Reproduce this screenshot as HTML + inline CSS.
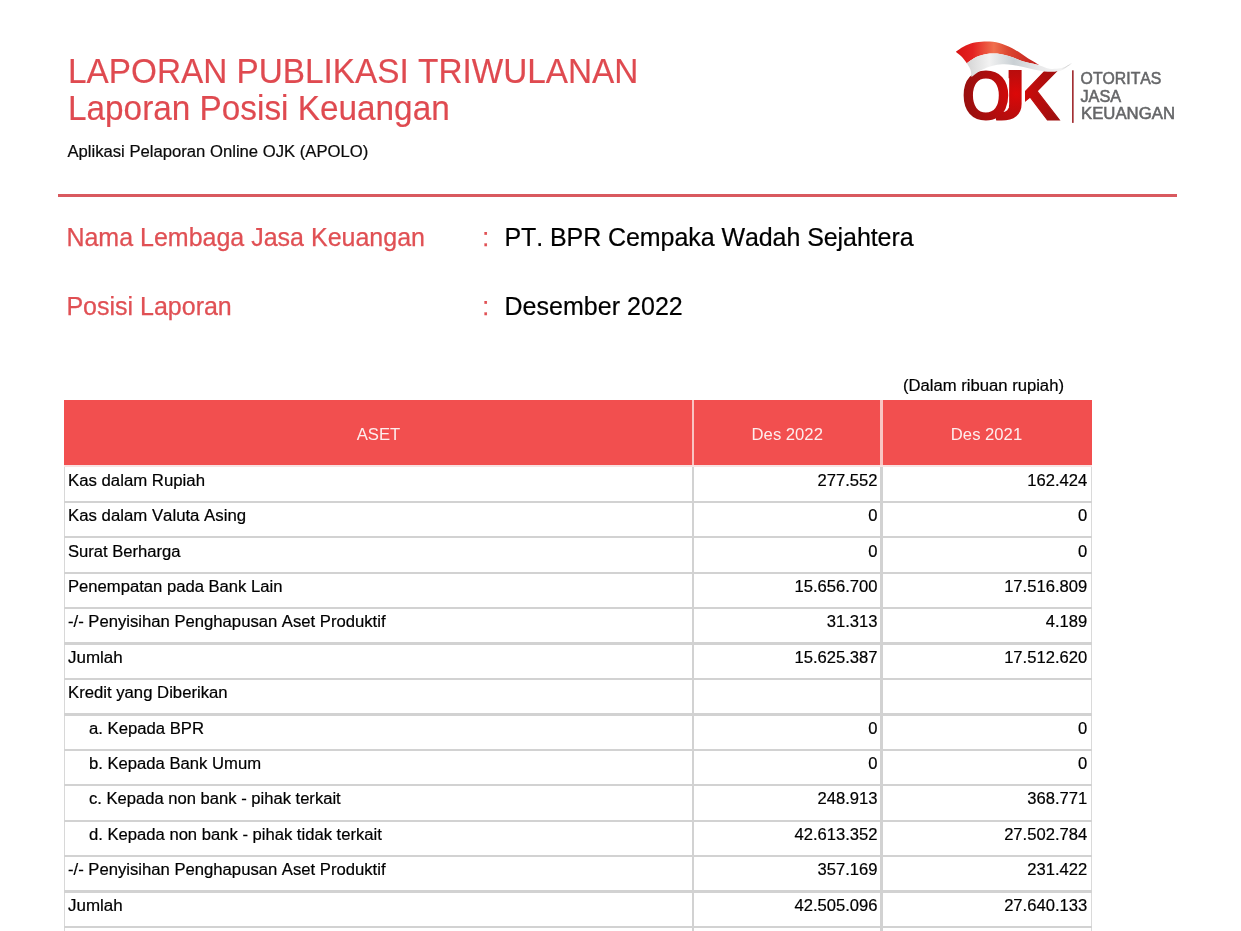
<!DOCTYPE html>
<html lang="id"><head><meta charset="utf-8"><title>Laporan Posisi Keuangan</title>
<style>
html,body{margin:0;padding:0;background:#fff}
body{font-kerning:none;width:1241px;height:931px;position:relative;overflow:hidden;font-family:"Liberation Sans",Arial,sans-serif;color:#000}
.a{position:absolute;white-space:pre;line-height:1;margin:0}
.t1{font-size:33.33px;color:#df4a50;left:68px;-webkit-text-stroke:0.15px #df4a50;transform-origin:0 27.9px;transform:scaleY(1.025)}
.sub{font-size:16.67px;left:67.4px;color:#0a0a0a;-webkit-text-stroke:0.2px #0a0a0a}
.lab{font-size:25px;color:#e05054;left:66.4px;-webkit-text-stroke:0.25px #e05054}
.val{font-size:25px;color:#000;left:504.4px;letter-spacing:-0.07px;-webkit-text-stroke:0.2px #000}
.hl{position:absolute;background:#d2d2d2}
.th{position:absolute;top:400.4px;height:64.8px;background:#f24f4f;color:#fdeeee;font-size:16.67px;text-align:center;line-height:1}
.th span{position:absolute;left:0;right:0;top:26.7px}
.rl{font-size:16px;color:#000;-webkit-text-stroke:0.2px #000;transform-origin:0 0}
.nt{font-size:16.67px;color:#000;-webkit-text-stroke:0.2px #000}
.num{font-size:16.6px;color:#000;text-align:right;-webkit-text-stroke:0.2px #000}
</style></head><body>
<div class="a t1" style="top:55.1px">LAPORAN PUBLIKASI TRIWULANAN</div>
<div class="a t1" style="top:91.9px">Laporan Posisi Keuangan</div>
<div class="a sub" style="top:144.2px">Aplikasi Pelaporan Online OJK (APOLO)</div>
<div class="hl" style="left:58px;top:194.4px;width:1118.8px;height:2.3px;background:#d9595f"></div>
<div class="a lab" style="top:225.2px">Nama Lembaga Jasa Keuangan</div>
<div class="a lab" style="top:225.2px;left:482.2px">:</div>
<div class="a val" style="top:225.2px">PT. BPR Cempaka Wadah Sejahtera</div>
<div class="a lab" style="top:294.4px">Posisi Laporan</div>
<div class="a lab" style="top:294.4px;left:482.2px">:</div>
<div class="a val" style="top:294.4px;letter-spacing:0.04px">Desember 2022</div>
<div class="a rl" style="top:377.76px;left:902.7px;transform:scaleX(1.040)">(Dalam ribuan rupiah)</div>
<div class="th" style="left:64px;width:1028px"></div>
<div class="th" style="left:64px;width:629px;background:none"><span>ASET</span></div>
<div class="th" style="left:693px;width:188.5px;background:none"><span>Des 2022</span></div>
<div class="th" style="left:881.5px;width:210px;background:none"><span>Des 2021</span></div>
<div class="hl" style="left:691.7px;top:400.4px;width:2.4px;height:64.8px;background:#f9c4c2"></div>
<div class="hl" style="left:880.3px;top:400.4px;width:2.4px;height:64.8px;background:#f9c4c2"></div>
<div class="hl" style="left:64.2px;top:466px;width:1.2px;height:470px;background:#d8d8d8"></div>
<div class="hl" style="left:691.7px;top:466px;width:2.4px;height:470px"></div>
<div class="hl" style="left:880.3px;top:466px;width:2.4px;height:470px"></div>
<div class="hl" style="left:1090.6px;top:466px;width:1.4px;height:470px;background:#dadada"></div>
<div class="hl" style="left:64px;top:465.2px;width:1028px;height:2.1px;background:#f8e2e2"></div>
<div class="hl" style="left:64px;top:500.77px;width:1028px;height:2.3px"></div>
<div class="a rl" style="top:472.76px;left:67.9px;transform:scaleX(1.0478)">Kas dalam Rupiah</div>
<div class="a num" style="top:472.85px;left:700px;width:177.5px">277.552</div>
<div class="a num" style="top:472.85px;left:890px;width:197.2px">162.424</div>
<div class="hl" style="left:64px;top:536.19px;width:1028px;height:2.3px"></div>
<div class="a rl" style="top:507.76px;left:67.9px;transform:scaleX(1.0481)">Kas dalam Valuta Asing</div>
<div class="a num" style="top:507.85px;left:700px;width:177.5px">0</div>
<div class="a num" style="top:507.85px;left:890px;width:197.2px">0</div>
<div class="hl" style="left:64px;top:571.61px;width:1028px;height:2.3px"></div>
<div class="a rl" style="top:543.76px;left:67.9px;transform:scaleX(1.0375)">Surat Berharga</div>
<div class="a num" style="top:543.85px;left:700px;width:177.5px">0</div>
<div class="a num" style="top:543.85px;left:890px;width:197.2px">0</div>
<div class="hl" style="left:64px;top:607.03px;width:1028px;height:2.3px"></div>
<div class="a rl" style="top:578.76px;left:67.9px;transform:scaleX(1.0392)">Penempatan pada Bank Lain</div>
<div class="a num" style="top:578.85px;left:700px;width:177.5px">15.656.700</div>
<div class="a num" style="top:578.85px;left:890px;width:197.2px">17.516.809</div>
<div class="hl" style="left:64px;top:642.45px;width:1028px;height:2.3px"></div>
<div class="a rl" style="top:613.76px;left:67.9px;transform:scaleX(1.0409)">-/- Penyisihan Penghapusan Aset Produktif</div>
<div class="a num" style="top:613.85px;left:700px;width:177.5px">31.313</div>
<div class="a num" style="top:613.85px;left:890px;width:197.2px">4.189</div>
<div class="hl" style="left:64px;top:677.87px;width:1028px;height:2.3px"></div>
<div class="a rl" style="top:649.76px;left:67.9px;transform:scaleX(1.0592)">Jumlah</div>
<div class="a num" style="top:649.85px;left:700px;width:177.5px">15.625.387</div>
<div class="a num" style="top:649.85px;left:890px;width:197.2px">17.512.620</div>
<div class="hl" style="left:64px;top:713.29px;width:1028px;height:2.3px"></div>
<div class="a rl" style="top:684.76px;left:67.9px;transform:scaleX(1.0433)">Kredit yang Diberikan</div>
<div class="hl" style="left:64px;top:748.71px;width:1028px;height:2.3px"></div>
<div class="a rl" style="top:720.76px;left:89.2px;transform:scaleX(1.0429)">a. Kepada BPR</div>
<div class="a num" style="top:720.85px;left:700px;width:177.5px">0</div>
<div class="a num" style="top:720.85px;left:890px;width:197.2px">0</div>
<div class="hl" style="left:64px;top:784.13px;width:1028px;height:2.3px"></div>
<div class="a rl" style="top:755.76px;left:89.2px;transform:scaleX(1.0400)">b. Kepada Bank Umum</div>
<div class="a num" style="top:755.85px;left:700px;width:177.5px">0</div>
<div class="a num" style="top:755.85px;left:890px;width:197.2px">0</div>
<div class="hl" style="left:64px;top:819.55px;width:1028px;height:2.3px"></div>
<div class="a rl" style="top:790.76px;left:89.2px;transform:scaleX(1.0366)">c. Kepada non bank - pihak terkait</div>
<div class="a num" style="top:790.85px;left:700px;width:177.5px">248.913</div>
<div class="a num" style="top:790.85px;left:890px;width:197.2px">368.771</div>
<div class="hl" style="left:64px;top:854.97px;width:1028px;height:2.3px"></div>
<div class="a rl" style="top:826.76px;left:89.2px;transform:scaleX(1.0386)">d. Kepada non bank - pihak tidak terkait</div>
<div class="a num" style="top:826.85px;left:700px;width:177.5px">42.613.352</div>
<div class="a num" style="top:826.85px;left:890px;width:197.2px">27.502.784</div>
<div class="hl" style="left:64px;top:890.39px;width:1028px;height:2.3px"></div>
<div class="a rl" style="top:861.76px;left:67.9px;transform:scaleX(1.0409)">-/- Penyisihan Penghapusan Aset Produktif</div>
<div class="a num" style="top:861.85px;left:700px;width:177.5px">357.169</div>
<div class="a num" style="top:861.85px;left:890px;width:197.2px">231.422</div>
<div class="hl" style="left:64px;top:925.81px;width:1028px;height:2.3px"></div>
<div class="a rl" style="top:897.76px;left:67.9px;transform:scaleX(1.0592)">Jumlah</div>
<div class="a num" style="top:897.85px;left:700px;width:177.5px">42.505.096</div>
<div class="a num" style="top:897.85px;left:890px;width:197.2px">27.640.133</div>
<svg style="position:absolute;left:940px;top:30px" width="250" height="110" viewBox="940 30 250 110">
<defs>
<radialGradient id="gl" gradientUnits="userSpaceOnUse" cx="1016" cy="94" r="52">
<stop offset="0" stop-color="#dc0808"/><stop offset="0.35" stop-color="#c00c0c"/><stop offset="1" stop-color="#98100f"/>
</radialGradient>
<radialGradient id="gO" href="#gl" gradientTransform="scale(1.10742,1) translate(-961.00,-119.60)"/>
<radialGradient id="gJ" href="#gl" gradientTransform="scale(0.82988,1) translate(-979.20,-119.50)"/>
<radialGradient id="gK" href="#gl" gradientTransform="scale(1.03842,1) translate(-1009.40,-119.70)"/>
<linearGradient id="gr" gradientUnits="userSpaceOnUse" x1="956" y1="55" x2="1040" y2="55">
<stop offset="0" stop-color="#d81414"/><stop offset="0.2" stop-color="#e42222"/><stop offset="0.45" stop-color="#f0704e"/><stop offset="0.62" stop-color="#dc4630"/><stop offset="1" stop-color="#c01c1c"/>
</linearGradient>
<linearGradient id="gw" gradientUnits="userSpaceOnUse" x1="966" y1="60" x2="1072" y2="60">
<stop offset="0" stop-color="#d4d4d4"/><stop offset="0.22" stop-color="#f2f2f2"/><stop offset="0.45" stop-color="#c9d0d4"/><stop offset="0.7" stop-color="#e9e9ea"/><stop offset="0.9" stop-color="#f2f2f2"/><stop offset="1" stop-color="#b8b8b8"/>
</linearGradient>
<clipPath id="cj"><path d="M1008.6 60H1030V130H996V108H1008.6Z"/></clipPath>
<clipPath id="ck"><rect x="1025.0" y="60" width="50" height="70"/></clipPath>
</defs>
<g font-family="Liberation Sans, Arial, sans-serif" font-weight="bold" fill="url(#gl)">
<text transform="translate(961,119.6) scale(0.903,1)" font-size="71.1" fill="url(#gO)">O</text>
<g clip-path="url(#cj)"><text transform="translate(979.2,119.5) scale(1.205,1)" font-size="72.1" fill="url(#gJ)">J</text></g>
<g clip-path="url(#ck)"><text transform="translate(1009.4,119.7) scale(0.963,1)" font-size="72.5" fill="url(#gK)" stroke="url(#gK)" stroke-width="1.2">K</text></g>
</g>
<path d="M955.8 51.8C957.4 50.7 962.3 47.0 965.7 45.5C969.1 43.9 972.2 43.0 976.2 42.3C980.2 41.7 985.4 41.2 989.8 41.5C994.2 41.8 998.2 42.5 1002.4 43.9C1006.6 45.3 1010.8 47.3 1014.9 49.7C1019.1 52.0 1023.4 55.5 1027.5 58.0C1031.6 60.6 1037.6 64.0 1039.6 65.2C1037.9 64.8 1032.7 63.8 1029.6 63.1C1026.6 62.3 1024.7 61.9 1021.2 60.7C1017.7 59.5 1012.7 57.1 1008.7 56.0C1004.6 54.8 1000.8 54.0 997.1 53.6C993.5 53.3 990.2 53.3 986.7 53.9C983.2 54.4 979.5 55.4 976.2 57.0C972.9 58.6 968.3 62.2 966.8 63.3C966.0 62.2 963.9 58.9 962.0 57.0C960.2 55.1 956.8 52.6 955.8 51.8Z" fill="url(#gr)"/>
<path d="M966.8 63.3C968.3 62.2 972.9 58.6 976.2 57.0C979.5 55.4 983.2 54.4 986.7 53.9C990.2 53.3 993.5 53.3 997.1 53.6C1000.8 54.0 1004.6 54.8 1008.7 56.0C1012.7 57.1 1017.7 59.5 1021.2 60.7C1024.7 61.9 1026.6 62.3 1029.6 63.1C1032.7 63.9 1036.2 64.4 1039.6 65.4C1042.9 66.3 1046.1 68.2 1049.5 68.7C1052.9 69.2 1057.2 68.7 1060.0 68.3C1062.8 67.9 1064.3 67.1 1066.3 66.2C1068.3 65.3 1071.1 63.6 1072.0 63.1C1070.6 64.2 1066.0 68.1 1063.1 69.6C1060.3 71.0 1057.9 71.4 1054.8 71.7C1051.6 72.0 1047.8 71.8 1044.3 71.5C1040.8 71.1 1037.3 70.3 1033.8 69.6C1030.3 68.8 1026.8 67.7 1023.3 67.0C1019.8 66.2 1016.3 65.3 1012.9 64.9C1009.4 64.4 1005.9 64.2 1002.4 64.3C998.9 64.5 995.4 64.9 991.9 65.9C988.4 66.9 984.8 68.2 981.4 70.1C978.0 72.0 973.1 75.9 971.5 77.1C971.3 75.9 971.2 71.9 970.4 69.6C969.6 67.3 967.4 64.3 966.8 63.3Z" fill="url(#gw)"/>
<rect x="1072.1" y="70.3" width="1.5" height="52.6" fill="#991a1e"/>
<g font-family="Liberation Sans, Arial, sans-serif" font-size="16.6" fill="#656668" stroke="#656668" stroke-width="0.55">
<text x="1080.6" y="84.4" textLength="80.8" lengthAdjust="spacingAndGlyphs">OTORITAS</text>
<text x="1080.4" y="101.9" textLength="40.8" lengthAdjust="spacingAndGlyphs">JASA</text>
<text x="1081.0" y="119.1" textLength="94" lengthAdjust="spacingAndGlyphs">KEUANGAN</text>
</g>
</svg>

</body></html>
